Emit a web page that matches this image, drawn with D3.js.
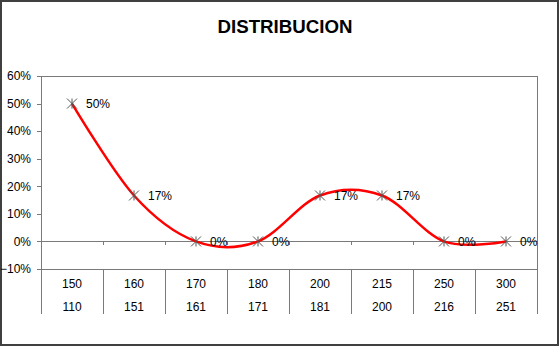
<!DOCTYPE html>
<html>
<head>
<meta charset="utf-8">
<script src="https://cdn.jsdelivr.net/npm/d3@7"></script>
<style>
  html, body { margin: 0; padding: 0; background: #fff; }
  svg { display: block; font-family: "Liberation Sans", Arial, sans-serif; }
</style>
</head>
<body>
<svg id="chart" width="560" height="347"></svg>
<script>
// Chart data
const title = "DISTRIBUCION";
const upperLabels = ["150", "160", "170", "180", "200", "215", "250", "300"];
const lowerLabels = ["110", "151", "161", "171", "181", "200", "216", "251"];
const shares = [0.5, 1 / 6, 0, 0, 1 / 6, 1 / 6, 0, 0];
const yTicks = [-0.1, 0, 0.1, 0.2, 0.3, 0.4, 0.5, 0.6];

const svg = d3.select("#chart");
const plot = { left: 41, right: 537, top: 76, bottom: 269 };
const axisColor = "#7a7a7a";

// Outer frame
svg.append("rect")
  .attr("x", 1).attr("y", 1)
  .attr("width", 557).attr("height", 344)
  .attr("fill", "#fff")
  .attr("stroke", "#404040")
  .attr("stroke-width", 2);

// Title
svg.append("text")
  .attr("x", 285).attr("y", 33)
  .attr("text-anchor", "middle")
  .attr("font-size", 18.7)
  .attr("font-weight", "bold")
  .attr("fill", "#000")
  .text(title);

const x = d3.scaleBand()
  .domain(d3.range(shares.length))
  .range([plot.left, plot.right])
  .paddingInner(0).paddingOuter(0);

const y = d3.scaleLinear()
  .domain([-0.1, 0.6])
  .range([plot.bottom, plot.top]);

const fmt = d3.format(".0%");

// Plot area border (top and right)
svg.append("path")
  .attr("d", `M${plot.left},${plot.top}H${plot.right}V${plot.bottom}H${plot.left}`)
  .attr("fill", "none")
  .attr("stroke", axisColor)
  .attr("stroke-width", 1)
  .attr("shape-rendering", "crispEdges");

// Value axis
const yAxis = d3.axisLeft(y)
  .tickValues(yTicks)
  .tickSize(4)
  .tickPadding(6)
  .tickFormat(fmt);

const yg = svg.append("g")
  .attr("transform", `translate(${plot.left},0)`)
  .call(yAxis);
yg.select(".domain").attr("stroke", axisColor).attr("shape-rendering", "crispEdges");
yg.selectAll(".tick line").attr("stroke", axisColor).attr("shape-rendering", "crispEdges");
yg.selectAll(".tick text")
  .attr("font-size", 12)
  .attr("fill", "#000")
  .attr("font-family", "Liberation Sans, Arial, sans-serif");

// Category axis crossing at 0%, ticks between categories
const boundaries = d3.range(shares.length + 1).map(i =>
  i < shares.length ? x(i) : x(shares.length - 1) + x.bandwidth());

svg.append("line")
  .attr("x1", plot.left).attr("x2", plot.right)
  .attr("y1", y(0)).attr("y2", y(0))
  .attr("stroke", axisColor)
  .attr("shape-rendering", "crispEdges");

svg.append("g").selectAll("line")
  .data(boundaries.slice(1, -1))
  .join("line")
  .attr("x1", d => d).attr("x2", d => d)
  .attr("y1", y(0)).attr("y2", y(0) + 4)
  .attr("stroke", axisColor)
  .attr("shape-rendering", "crispEdges");

// Two-level category labels below the plot
svg.append("g").selectAll("line")
  .data(boundaries)
  .join("line")
  .attr("x1", d => d).attr("x2", d => d)
  .attr("y1", plot.bottom).attr("y2", 314)
  .attr("stroke", axisColor)
  .attr("shape-rendering", "crispEdges");

const labelG = svg.append("g")
  .attr("font-size", 12)
  .attr("text-anchor", "middle")
  .attr("fill", "#000");

labelG.selectAll("text.upper")
  .data(upperLabels)
  .join("text")
  .attr("class", "upper")
  .attr("x", (d, i) => x(i) + x.bandwidth() / 2)
  .attr("y", 288)
  .text(d => d);

labelG.selectAll("text.lower")
  .data(lowerLabels)
  .join("text")
  .attr("class", "lower")
  .attr("x", (d, i) => x(i) + x.bandwidth() / 2)
  .attr("y", 311)
  .text(d => d);

// Smoothed series line
const cx = i => x(i) + x.bandwidth() / 2;
const line = d3.line()
  .x((d, i) => cx(i))
  .y(d => y(d))
  .curve(d3.curveCardinal.tension(0));

svg.append("path")
  .datum(shares)
  .attr("d", line)
  .attr("fill", "none")
  .attr("stroke", "#ff0000")
  .attr("stroke-width", 2.5)
  .attr("stroke-linejoin", "round");

// Star markers
const s = 5;
const markers = svg.append("g")
  .attr("stroke", "#555")
  .attr("stroke-width", 1)
  .attr("fill", "none");

markers.selectAll("path")
  .data(shares)
  .join("path")
  .attr("transform", (d, i) => `translate(${cx(i)},${y(d)})`)
  .attr("d", `M${-s},${-s}L${s},${s}M${-s},${s}L${s},${-s}M0,${-s}L0,${s}`);

// Data labels
svg.append("g")
  .attr("font-size", 12)
  .attr("fill", "#000")
  .selectAll("text")
  .data(shares)
  .join("text")
  .attr("x", (d, i) => cx(i) + 14)
  .attr("y", d => y(d) + 4.5)
  .text(d => fmt(d));
</script>
</body>
</html>
